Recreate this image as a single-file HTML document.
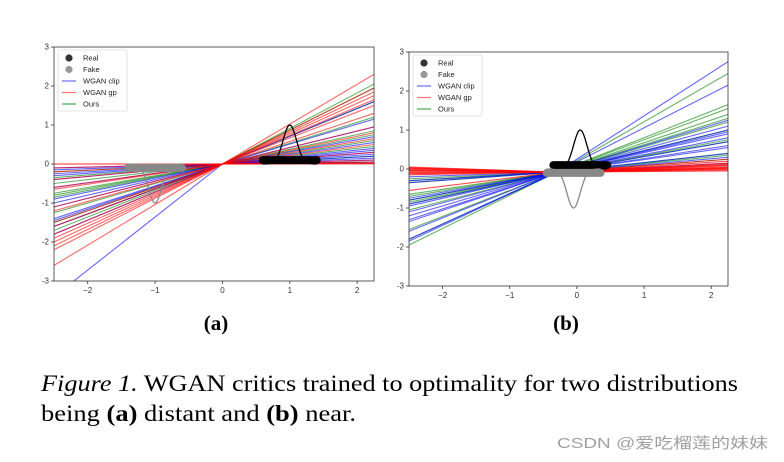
<!DOCTYPE html>
<html><head><meta charset="utf-8"><style>
html,body{margin:0;padding:0;background:#fff;}
svg{display:block;}
</style></head><body>
<svg id="fig" width="784" height="462" viewBox="0 0 784 462" xmlns="http://www.w3.org/2000/svg">
<defs>
<clipPath id="clipA"><rect x="54" y="47" width="320" height="234"/></clipPath>
<clipPath id="clipB"><rect x="409" y="52" width="319" height="234"/></clipPath>
</defs>
<g id="panelA"></g>
<g id="panelB"></g>
<text x="216" y="330" text-anchor="middle" font-family="Liberation Serif, serif" font-weight="bold" font-size="21">(a)</text>
<text x="566" y="330" text-anchor="middle" font-family="Liberation Serif, serif" font-weight="bold" font-size="21">(b)</text>
<text x="41" y="391" font-family="Liberation Serif, serif" font-size="23" textLength="697" lengthAdjust="spacingAndGlyphs"><tspan font-style="italic">Figure 1.</tspan> WGAN critics trained to optimality for two distributions</text>
<text x="41" y="421" font-family="Liberation Serif, serif" font-size="23" textLength="315" lengthAdjust="spacingAndGlyphs">being <tspan font-weight="bold">(a)</tspan> distant and <tspan font-weight="bold">(b)</tspan> near.</text>
<text x="557" y="448" font-family="Liberation Sans, Noto Sans CJK SC, sans-serif" font-size="15" fill="#a0a0a0" textLength="211" lengthAdjust="spacingAndGlyphs">CSDN @爱吃榴莲的妹妹</text>
</svg>
<script>
// Each critic line passes through a pivot; values give y at x=-2.5 (left) and x=2.25 (right)
const aPivot=[0,0];
const aRedLeft=[-2.6,-2.2,-2.1,-2.0,-1.9,-1.8,-1.6,-1.5,-1.2,-1.1,-0.65,-0.6,-0.4,-0.2,-0.1,0,0];
const aRedRight=[2.3,1.95,1.85,1.75,1.65,1.5,1.3,0.95,0.8,0.65,0.5,0.3,0.1,0.05,0.02,0.01,0];
const aGreenLeft=[-1.7,-1.6,-1.5,-1.25,-0.85,-0.8,-0.75,-0.5,-0.35,-0.2];
const aGreenRight=[2.05,1.95,1.6,1.2,0.85,0.75,0.6,0.45,0.2,0.05];
const aBlueLeft=[-3.4,-1.8,-1.6,-1.45,-1.4,-1.1,-1.0,-0.9,-0.6,-0.4,-0.3,-0.25,-0.15,-0.1];
const aBlueRight=[1.6,1.15,0.95,0.7,0.55,0.4,0.35,0.3,0.25,0.2,0.15,0.1,0.05];
const bPivot=[-0.3,-0.08];
const bRedLeft=[0.05,0.03,0,-0.02,-0.05,-0.08,-0.1,-0.12,-0.15,-0.55,0.02,-0.04];
const bRedRight=[-0.05,-0.02,0,0.02,0.05,0.08,0.1,0.15,0.2,0.25,0.12,0.03];
const bBlueLeft=[-1.85,-1.8,-1.6,-1.35,-1.3,-1.2,-1.1,-0.95,-0.9,-0.8,-0.75,-0.35,-0.3,-0.2];
const bBlueRight=[2.75,2.15,1.25,1.1,1.0,0.95,0.9,0.8,0.7,0.6,0.55,0.4,0.3,0.15];
const bGreenLeft=[-1.95,-1.8,-1.55,-1.05,-0.9,-0.85,-0.8,-0.7,-0.65,-0.35,-0.3,-0.25];
const bGreenRight=[2.45,1.65,1.55,1.4,1.3,1.2,1.0,0.75,0.7,0.4,0.35,0.25];
// Distributions: [barStart, barEnd, barY, peakX, peakY]
const aReal=[0.6,1.4,0.1,1.0,1.0];
const aFake=[-1.4,-0.6,-0.1,-1.0,-1.0];
const bReal=[-0.35,0.45,0.1,0.05,1.0];
const bFake=[-0.45,0.35,-0.1,-0.05,-1.0];
const xTicks=[-2,-1,0,1,2];
const yTicks=[-3,-2,-1,0,1,2,3];
const xMin=-2.5,xMax=2.25,yMin=-3,yMax=3;

const NS='http://www.w3.org/2000/svg';
function mk(tag,attrs,parent){const e=document.createElementNS(NS,tag);for(const k in attrs)e.setAttribute(k,attrs[k]);parent.appendChild(e);return e;}

function panel(g,L,T,R,B,clip,pivot,series,real,fake,legend){
  const sx=v=>L+(v-xMin)/(xMax-xMin)*(R-L);
  const sy=v=>B-(v-yMin)/(yMax-yMin)*(B-T);
  const plot=mk('g',{'clip-path':'url(#'+clip+')'},g);
  
  
  series.forEach(s=>{
    s.left.forEach(lv=>{
      const l=mk('line',{x1:sx(xMin),y1:sy(lv),x2:sx(pivot[0]),y2:sy(pivot[1]),stroke:s.color,'stroke-width':1.1,'stroke-opacity':s.op},plot);
      
      
    });
    s.right.forEach(rv=>{
      const l=mk('line',{x1:sx(pivot[0]),y1:sy(pivot[1]),x2:sx(xMax),y2:sy(rv),stroke:s.color,'stroke-width':1.1,'stroke-opacity':s.op},plot);
      
      
    });
  });
  [[real,'#000','#000','real'],[fake,'#888','#888','fake']].forEach(([d,barc,curc,nm])=>{
    let pts=[];
    for(let i=-40;i<=40;i++){const x=d[3]+i*0.01;pts.push(sx(x)+','+sy(d[4]*Math.exp(-Math.pow(i*0.01/0.1,2)/2)));}
    const c=mk('polyline',{points:pts.join(' '),fill:'none',stroke:curc,'stroke-width':1.3},plot);
    
    
    const b=mk('line',{x1:sx(d[0]),y1:sy(d[2]),x2:sx(d[1]),y2:sy(d[2]),stroke:barc,'stroke-width':8,'stroke-linecap':'round'},plot);
    
    
  });
  const fr=mk('rect',{x:L,y:T,width:R-L,height:B-T,fill:'none',stroke:'#333','stroke-width':0.8},g);
  
  
  xTicks.forEach(t=>{
    mk('line',{x1:sx(t),y1:B,x2:sx(t),y2:B+3,stroke:'#333','stroke-width':0.8},g);
    const tx=mk('text',{x:sx(t),y:B+12,'text-anchor':'middle','font-family':'Liberation Sans, DejaVu Sans, sans-serif','font-size':8,fill:'#333'},g);
    tx.textContent=t<0?'\u2212'+(-t):String(t);
    
    
  });
  yTicks.forEach(t=>{
    mk('line',{x1:L-3,y1:sy(t),x2:L,y2:sy(t),stroke:'#333','stroke-width':0.8},g);
    const tx=mk('text',{x:L-5,y:sy(t)+2.5,'text-anchor':'end','font-family':'Liberation Sans, DejaVu Sans, sans-serif','font-size':8,fill:'#333'},g);
    tx.textContent=String(t);
    
    
  });
  const lg=mk('g',{},g);
  
  
  const lx=L+4,ly=T+3;
  mk('rect',{x:lx,y:ly,width:69,height:61,fill:'#fff','fill-opacity':0.85,stroke:'#ccc','stroke-width':0.6,rx:2},lg);
  legend.forEach((e,i)=>{
    const y=ly+8+i*11.5;
    if(e.marker) mk('circle',{cx:lx+11,cy:y,r:3.6,fill:e.color},lg);
    else mk('line',{x1:lx+4,y1:y,x2:lx+18,y2:y,stroke:e.color,'stroke-width':1.2},lg);
    const t=mk('text',{x:lx+25,y:y+2.5,'font-family':'Liberation Sans, DejaVu Sans, sans-serif','font-size':7.5,fill:'#222'},lg);
    t.textContent=e.label;
    
    
  });
}
const legend=[{label:'Real',color:'#333',marker:1},{label:'Fake',color:'#999',marker:1},{label:'WGAN clip',color:'#6b6bff'},{label:'WGAN gp',color:'#ff7070'},{label:'Ours',color:'#44aa44'}];
panel(document.getElementById('panelA'),54,47,374,281,'clipA',aPivot,[
  {name:'ours',left:aGreenLeft,right:aGreenRight,color:'#008000',op:0.6},
  {name:'wgan-clip',left:aBlueLeft,right:aBlueRight,color:'#0000ff',op:0.6},
  {name:'wgan-gp',left:aRedLeft,right:aRedRight,color:'#ff0000',op:0.6}
],aReal,aFake,legend);
panel(document.getElementById('panelB'),409,52,728,286,'clipB',bPivot,[
  {name:'ours',left:bGreenLeft,right:bGreenRight,color:'#008000',op:0.6},
  {name:'wgan-clip',left:bBlueLeft,right:bBlueRight,color:'#0000ff',op:0.6},
  {name:'wgan-gp',left:bRedLeft,right:bRedRight,color:'#ff0000',op:0.7}
],bReal,bFake,legend);
</script>
</body></html>
